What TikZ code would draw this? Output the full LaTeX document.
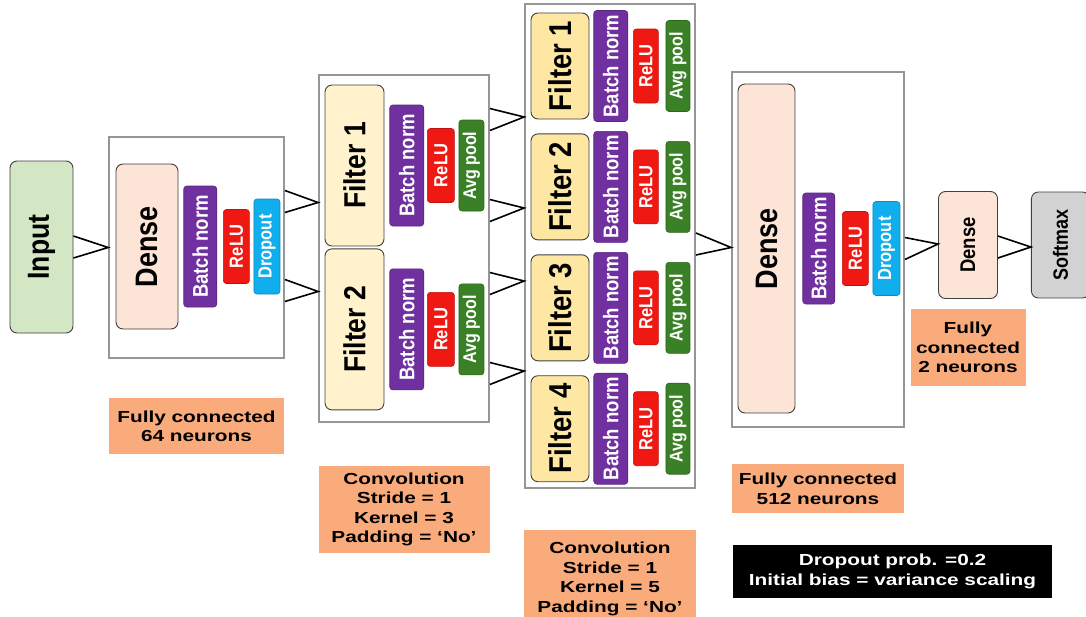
\documentclass[tikz,border=0pt]{standalone}
\usepackage{fontspec}
\setmainfont{Liberation Sans}
\newfontfamily\widefont{Liberation Sans}[FakeStretch=1.3]
\usetikzlibrary{positioning}

\definecolor{inputgreen}{RGB}{211,231,196}
\definecolor{densepeach}{RGB}{252,228,214}
\definecolor{filterlight}{RGB}{255,242,204}
\definecolor{filterdark}{RGB}{253,231,163}
\definecolor{bnpurple}{RGB}{112,48,160}
\definecolor{relured}{RGB}{240,24,18}
\definecolor{dropblue}{RGB}{16,174,236}
\definecolor{poolgreen}{RGB}{58,128,38}
\definecolor{noteorange}{RGB}{249,171,124}
\definecolor{softgray}{RGB}{210,210,210}
\definecolor{framegray}{RGB}{150,150,150}

\newcommand{\vtext}[1]{\rotatebox{90}{\scalebox{1}[1.15]{#1}}}
\newcommand{\linkto}[3]{\draw[link] ([yshift=#3+11pt]#1) -- ([yshift=#3]#2) -- ([yshift=#3-11pt]#1);}

\begin{document}
\begin{tikzpicture}[x=1pt, y=-1pt,
    frame/.style={draw=framegray, line width=1.8pt, inner sep=0pt},
    block/.style={draw=black!75, line width=0.9pt, rounded corners=7pt, fill=densepeach,
                  inner sep=0pt, font=\bfseries\fontsize{27}{30}\selectfont},
    filt/.style={block, minimum width=59pt, minimum height=161pt,
                 font=\bfseries\fontsize{26.5}{30}\selectfont},
    opbox/.style={rounded corners=3pt, draw=#1!80!black, fill=#1, text=white,
                  inner sep=0pt, line width=0.6pt},
    bn/.style={opbox=bnpurple, minimum width=33pt, minimum height=121pt,
               font=\bfseries\fontsize{18.5}{20}\selectfont},
    relu/.style={opbox=relured, minimum width=26pt, minimum height=74pt,
                 font=\bfseries\fontsize{16.5}{18}\selectfont},
    drop/.style={opbox=dropblue, minimum width=26pt, minimum height=95pt,
                 font=\bfseries\fontsize{16.5}{18}\selectfont},
    pool/.style={opbox=poolgreen, minimum width=25pt, minimum height=91pt,
                 font=\bfseries\fontsize{16}{18}\selectfont},
    note/.style={fill=noteorange, inner sep=0pt, align=center,
                 font=\widefont\bfseries\fontsize{16}{19.5}\selectfont},
    link/.style={line width=1.6pt},
]
    \fill[white] (0,0) rectangle (1086,616);
    \useasboundingbox (0,0) rectangle (1086,616);

    % Input
    \node[block, fill=inputgreen, minimum width=63pt, minimum height=172pt,
          font=\bfseries\fontsize{26.5}{30}\selectfont] (input) at (41.5,247) {\vtext{Input}};

    % Fully connected, 64 neurons
    \node[frame, minimum width=175pt, minimum height=221pt] (fc1) at (196.5,247.5) {};
    \node[block, minimum width=62pt, minimum height=165pt] (dense1) at (147,246.5) {\vtext{Dense}};
    \node[bn, right=5pt of dense1] (bn1) {\vtext{Batch norm}};
    \node[relu, right=6pt of bn1] (relu1) {\vtext{ReLU}};
    \node[drop, right=4pt of relu1] (drop1) {\vtext{Dropout}};
    \node[note, minimum width=175pt, minimum height=56pt, below=39pt of fc1] (fc1note)
        {Fully connected\\64 neurons};

    % Convolution, kernel 3
    \node[frame, minimum width=170pt, minimum height=347pt] (conv1) at (404,248.5) {};
    \node[filt, fill=filterlight] (f11) at (354.5,165.5) {\vtext{Filter 1}};
    \node[filt, fill=filterlight, below=2pt of f11] (f12) {\vtext{Filter 2}};
    \node[bn, minimum width=34pt, right=5pt of f11] (bn11) {\vtext{Batch norm}};
    \node[relu, minimum width=27pt, right=3pt of bn11] (relu11) {\vtext{ReLU}};
    \node[pool, right=4pt of relu11] (pool11) {\vtext{Avg pool}};
    \node[bn, minimum width=34pt, right=5pt of f12] (bn12) {\vtext{Batch norm}};
    \node[relu, minimum width=27pt, right=3pt of bn12] (relu12) {\vtext{ReLU}};
    \node[pool, right=4pt of relu12] (pool12) {\vtext{Avg pool}};
    \node[note, minimum width=171pt, minimum height=87pt, below=43pt of conv1] (conv1note)
        {Convolution\\Stride = 1\\Kernel = 3\\Padding = ‘No’};

    % Convolution, kernel 5
    \node[frame, minimum width=170pt, minimum height=484pt] (conv2) at (610,246) {};
    \node[filt, fill=filterdark, minimum width=58pt, minimum height=106pt,
          font=\bfseries\fontsize{27.5}{30}\selectfont] (f21) at (560,66) {\vtext{Filter 1}};
    \node[filt, fill=filterdark, minimum width=58pt, minimum height=106pt,
          font=\bfseries\fontsize{27.5}{30}\selectfont, below=14pt of f21] (f22) {\vtext{Filter 2}};
    \node[filt, fill=filterdark, minimum width=58pt, minimum height=106pt,
          font=\bfseries\fontsize{27.5}{30}\selectfont, below=14pt of f22] (f23) {\vtext{Filter 3}};
    \node[filt, fill=filterdark, minimum width=58pt, minimum height=106pt,
          font=\bfseries\fontsize{27.5}{30}\selectfont, below=14pt of f23] (f24) {\vtext{Filter 4}};
    \node[bn, minimum width=34pt, minimum height=111pt, right=4pt of f21] (bn21) {\vtext{Batch norm}};
    \node[bn, minimum width=34pt, minimum height=111pt, right=4pt of f22] (bn22) {\vtext{Batch norm}};
    \node[bn, minimum width=34pt, minimum height=111pt, right=4pt of f23] (bn23) {\vtext{Batch norm}};
    \node[bn, minimum width=34pt, minimum height=111pt, right=4pt of f24] (bn24) {\vtext{Batch norm}};
    \node[relu, minimum width=25pt, right=5pt of bn21] (relu21) {\vtext{ReLU}};
    \node[relu, minimum width=25pt, right=5pt of bn22] (relu22) {\vtext{ReLU}};
    \node[relu, minimum width=25pt, right=5pt of bn23] (relu23) {\vtext{ReLU}};
    \node[relu, minimum width=25pt, right=5pt of bn24] (relu24) {\vtext{ReLU}};
    \node[pool, minimum width=24pt, right=7pt of relu21] (pool21) {\vtext{Avg pool}};
    \node[pool, minimum width=24pt, right=7pt of relu22] (pool22) {\vtext{Avg pool}};
    \node[pool, minimum width=24pt, right=7pt of relu23] (pool23) {\vtext{Avg pool}};
    \node[pool, minimum width=24pt, right=7pt of relu24] (pool24) {\vtext{Avg pool}};
    \node[note, minimum width=172pt, minimum height=98pt, below=41pt of conv2] (conv2note)
        {Convolution\\Stride = 1\\Kernel = 5\\Padding = ‘No’};

    % Fully connected, 512 neurons
    \node[frame, minimum width=172pt, minimum height=355pt] (fc2) at (818,249.5) {};
    \node[block, minimum width=57pt, minimum height=329pt] (dense2) at (766.5,248.5) {\vtext{Dense}};
    \node[bn, minimum width=32pt, minimum height=111pt, right=7pt of dense2] (bn2) {\vtext{Batch norm}};
    \node[relu, right=7pt of bn2] (relu2) {\vtext{ReLU}};
    \node[drop, minimum width=27pt, minimum height=94pt, right=4pt of relu2] (drop2) {\vtext{Dropout}};
    \node[note, minimum width=172pt, minimum height=49pt, below=36pt of fc2] (fc2note)
        {Fully connected\\512 neurons};

    % Output
    \node[block, minimum width=59pt, minimum height=107pt,
          font=\bfseries\fontsize{18.5}{20}\selectfont] (dense3) at (968,245) {\vtext{Dense}};
    \node[block, fill=softgray, minimum width=58pt, minimum height=106pt,
          font=\bfseries\fontsize{18}{20}\selectfont, right=33pt of dense3] (softmax) {\vtext{Softmax}};
    \node[note, minimum width=115pt, minimum height=77pt, below=10pt of dense3] (fc3note)
        {Fully\\connected\\2 neurons};

    % Hyperparameters
    \node[note, fill=black, text=white, minimum width=319pt, minimum height=53pt] (hyper)
        at (892.5,571.5) {Dropout prob. =0.2\\Initial bias = variance scaling};

    % Links
    \linkto{input.east}{fc1.west}{0pt}
    \linkto{fc1.east}{conv1.west}{46pt}
    \linkto{fc1.east}{conv1.west}{-43pt}
    \linkto{conv1.east}{conv2.west}{129pt}
    \linkto{conv1.east}{conv2.west}{38pt}
    \linkto{conv1.east}{conv2.west}{-35pt}
    \linkto{conv1.east}{conv2.west}{-125pt}
    \linkto{conv2.east}{fc2.west}{2pt}
    \linkto{fc2.east}{dense3.west}{1pt}
    \linkto{dense3.east}{softmax.west}{-2pt}

\end{tikzpicture}
\end{document}
